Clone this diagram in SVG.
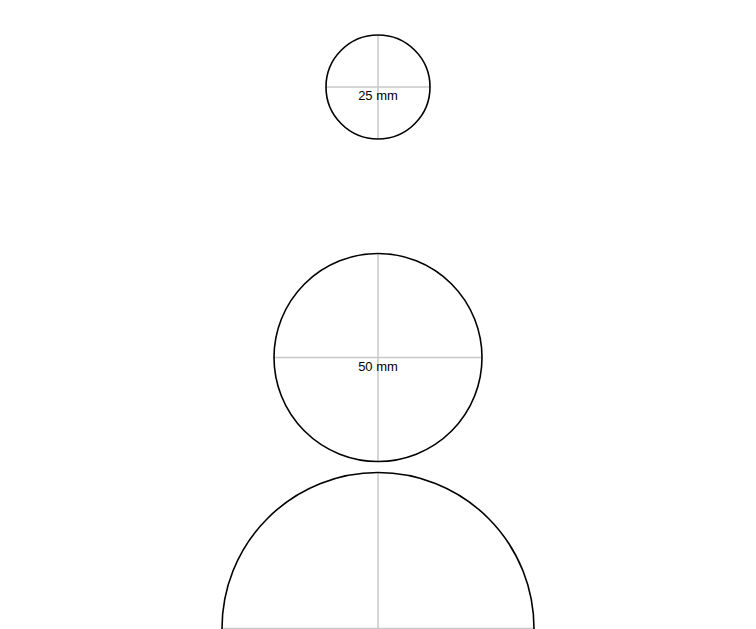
<svg xmlns="http://www.w3.org/2000/svg" width="756" height="629" viewBox="0 0 756 629">
<style>
.circ{fill:none;stroke:#000;stroke-width:1.6}
.axis{stroke:#c8c8c8;stroke-width:1.5}
.lbl{font-family:"Liberation Sans",Arial,sans-serif;font-size:13px;fill:#000;text-anchor:middle}
</style>
<rect width="756" height="629" fill="#fff"/>
<g id="circle-25">
<line class="axis" x1="326" y1="87" x2="430" y2="87"/>
<line class="axis" x1="378" y1="35" x2="378" y2="139"/>
<circle class="circ" cx="378" cy="87" r="52"/>
<text class="lbl" x="378" y="100">25 mm</text>
</g>
<g id="circle-50">
<line class="axis" x1="274" y1="357.5" x2="482" y2="357.5"/>
<line class="axis" x1="378" y1="253.5" x2="378" y2="461.5"/>
<circle class="circ" cx="378" cy="357.5" r="104"/>
<text class="lbl" x="378" y="371">50 mm</text>
</g>
<g id="circle-75">
<line class="axis" x1="222" y1="628.5" x2="534" y2="628.5"/>
<line class="axis" x1="378" y1="472.5" x2="378" y2="629"/>
<circle class="circ" cx="378" cy="628.5" r="156"/>
</g>
</svg>
